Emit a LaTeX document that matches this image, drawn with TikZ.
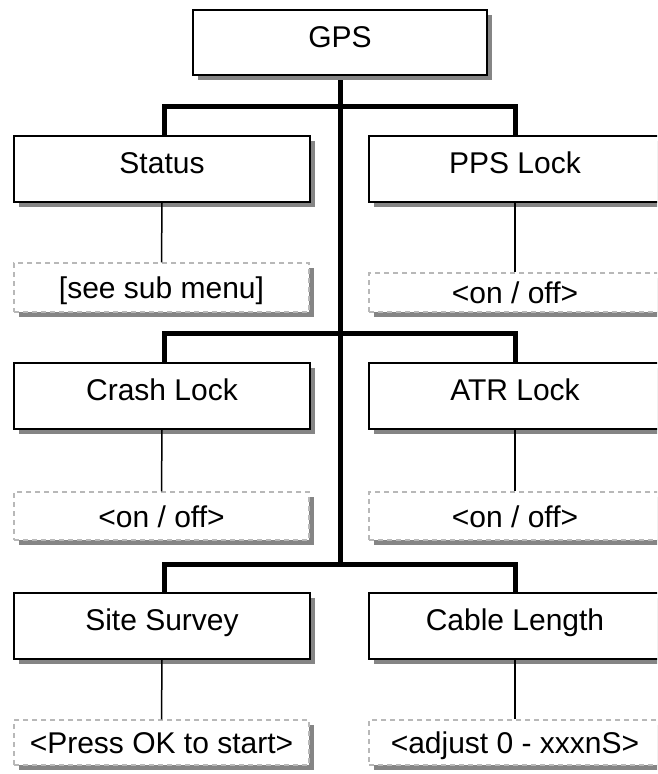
\documentclass[tikz,border=0pt]{standalone}
\usepackage{fontspec}
\setmainfont{Liberation Sans}
\usetikzlibrary{shadows}
\begin{document}
\begin{tikzpicture}[x=1pt,y=-1pt,
  font=\fontsize{30}{33}\selectfont,
  boxshadow/.style={drop shadow={shadow xshift=4.5pt,shadow yshift=-4.5pt,fill=black!48,opacity=1}},
  menubox/.style={draw=black,line width=1.7pt,fill=white,inner sep=0pt,
    text height=22pt,text depth=12.5pt,
    minimum width=296pt,minimum height=66pt,boxshadow},
  valuebox/.style={draw=black!28,line width=1.4pt,dash pattern=on 5pt off 4pt,fill=white,
    inner sep=0pt,text height=22pt,text depth=0pt,
    minimum width=295pt,minimum height=48pt,boxshadow},
  bar/.style={line width=5pt,black},
  link/.style={line width=1.5pt,black}]
\useasboundingbox (0,0) rectangle (657,774);
\clip (0,0) rectangle (657,774);

% junction points of the thick tree
\coordinate (j1) at (340,106);
\coordinate (j2) at (340,333);
\coordinate (j3) at (340,564);

% thick tree: trunk and the three branch pairs
\draw[bar] (340,75) -- (j3);
\draw[bar] (164.5,136) |- (j1) -| (515.5,136);
\draw[bar] (164.5,363) |- (j2) -| (515.5,363);
\draw[bar] (164.5,593) |- (j3) -| (515.5,593);

% menu entries
\node[menubox,minimum width=294pt,minimum height=65pt] (gps) at (340,42.5) {GPS};
\node[menubox] (status) at (162,169) {Status};
\node[menubox,minimum width=292pt] (pps) at (515,169) {PPS Lock};
\node[menubox] (crash) at (162,396) {Crash Lock};
\node[menubox,minimum width=292pt] (atr) at (515,396) {ATR Lock};
\node[menubox] (site) at (162,626) {Site Survey};
\node[menubox,minimum width=292pt] (cable) at (515,626) {Cable Length};

% values
\node[valuebox,minimum height=49pt] (statusv) at (161.5,287.5) {[see sub menu]};
\node[valuebox,minimum width=292pt,minimum height=39pt] (ppsv) at (515,292.5) {<on / off>};
\node[valuebox] (crashv) at (161.5,516) {<on / off>};
\node[valuebox,minimum width=292pt] (atrv) at (515,516) {<on / off>};
\node[valuebox,minimum height=45pt] (sitev) at (161.5,742.5) {<Press OK to start>};
\node[valuebox,minimum width=292pt,minimum height=45pt] (cablev) at (515,742.5) {<adjust 0 - xxxnS>};

% thin links from each entry to its value
\draw[link] (status.south) -- (statusv.north);
\draw[link] (pps.south) -- (ppsv.north);
\draw[link] (crash.south) -- (crashv.north);
\draw[link] (atr.south) -- (atrv.north);
\draw[link] (site.south) -- (sitev.north);
\draw[link] (cable.south) -- (cablev.north);
\end{tikzpicture}
\end{document}
